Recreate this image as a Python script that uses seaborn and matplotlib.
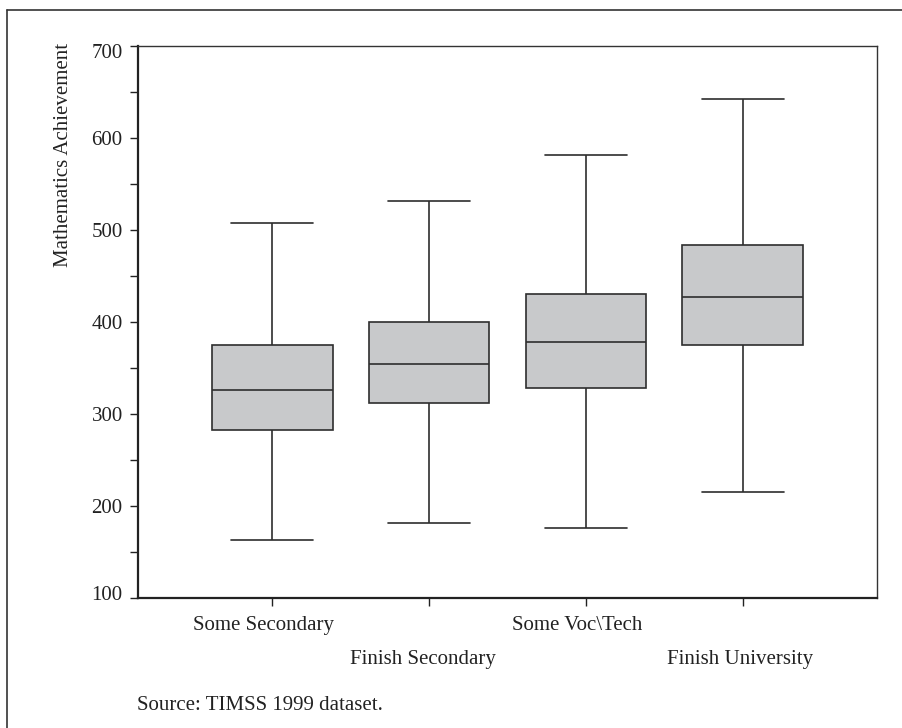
import numpy as np
import pandas as pd
import matplotlib
matplotlib.use("Agg")
import matplotlib.pyplot as plt
from matplotlib.lines import Line2D
from matplotlib.transforms import ScaledTranslation
import seaborn as sns

# ---- data (five-number summaries) ----
categories = ["Some Secondary", "Finish Secondary", "Some Voc\\Tech", "Finish University"]
mins = [163, 182, 176, 215]
q1s = [283, 312, 328, 375]
medians = [326, 354, 378, 427]
q3s = [375, 400, 430, 484]
maxs = [507, 531, 581, 642]
y_ticks = [100, 200, 300, 400, 500, 600, 700]

rows = []
for c, a, b, m, d, e in zip(categories, mins, q1s, medians, q3s, maxs):
    for v in (a, b, m, d, e):
        rows.append({"Education": c, "Score": v})
df = pd.DataFrame(rows)

sns.set_theme(style="ticks")
plt.rcParams["font.family"] = ["Liberation Serif", "DejaVu Serif"]
plt.rcParams["text.color"] = "#222222"
plt.rcParams["axes.labelcolor"] = "#222222"
plt.rcParams["xtick.color"] = "#222222"
plt.rcParams["ytick.color"] = "#222222"

W, H = 902, 728
fig = plt.figure(figsize=(W / 100, H / 100), dpi=100)
ax_l, ax_r, ax_t, ax_b = 138, 877, 45.7, 598.3
ax = fig.add_axes([ax_l / W, 1 - ax_b / H, (ax_r - ax_l) / W, (ax_b - ax_t) / H])

sns.boxplot(
    data=df, x="Education", y="Score", order=categories, ax=ax,
    color="#c8c9cb", saturation=1, width=0.77, whis=(0, 100),
    linecolor="#2e2e2e", linewidth=1.2, fliersize=0, capwidths=0.52,
)

ax.set_xlim(-0.855, 3.855)
ax.set_ylim(100, 700)
ax.set_yticks(y_ticks)
ax.set_yticks(np.arange(150, 700, 100), minor=True)
ax.tick_params(axis="y", which="major", length=6, width=1, pad=5, labelsize=15)
ax.tick_params(axis="y", which="minor", length=5.5, width=1)
ax.tick_params(axis="x", which="major", length=6, width=1, pad=7, labelsize=15)
ax.set_xlabel("")
ax.set_ylabel("Mathematics Achievement", fontsize=15, loc="top", labelpad=13.5)
ax.yaxis.label.set_transform(ax.yaxis.label.get_transform()
                             + ScaledTranslation(0, 3 / 100, fig.dpi_scale_trans))

for s in ["top", "right"]:
    ax.spines[s].set_visible(True)
    ax.spines[s].set_linewidth(1.0)
    ax.spines[s].set_color("#333333")
for s in ["left", "bottom"]:
    ax.spines[s].set_linewidth(1.6)
    ax.spines[s].set_color("#222222")

ax.set_xticks(range(len(categories)))
ax.set_xticklabels(categories)
ax_h = ax_b - ax_t
x_shift_px = [-9, -6.5, -8.5, -3]
for i, lab in enumerate(ax.get_xticklabels()):
    if i % 2 == 1:
        lab.set_y(-34 / ax_h)
    lab.set_transform(lab.get_transform()
                      + ScaledTranslation(x_shift_px[i] / 100, 0, fig.dpi_scale_trans))

# end labels on the value axis sit slightly inside the axis range
ylabs = ax.get_yticklabels()
ylabs[-1].set_transform(ylabs[-1].get_transform()
                        + ScaledTranslation(0, -5 / 100, fig.dpi_scale_trans))
ylabs[0].set_transform(ylabs[0].get_transform()
                       + ScaledTranslation(0, 5 / 100, fig.dpi_scale_trans))

fig.text(137 / W, 1 - 706 / H, "Source: TIMSS 1999 dataset.", fontsize=15,
         ha="left", va="center")

# outer frame (left and top edges visible)
fx, fy = 7 / W, 1 - 10 / H
fig.add_artist(Line2D([fx, 1.0], [fy, fy], transform=fig.transFigure, color="#333333", lw=1.2))
fig.add_artist(Line2D([fx, fx], [0, fy], transform=fig.transFigure, color="#333333", lw=1.2))

fig.savefig("out.png", dpi=100)
